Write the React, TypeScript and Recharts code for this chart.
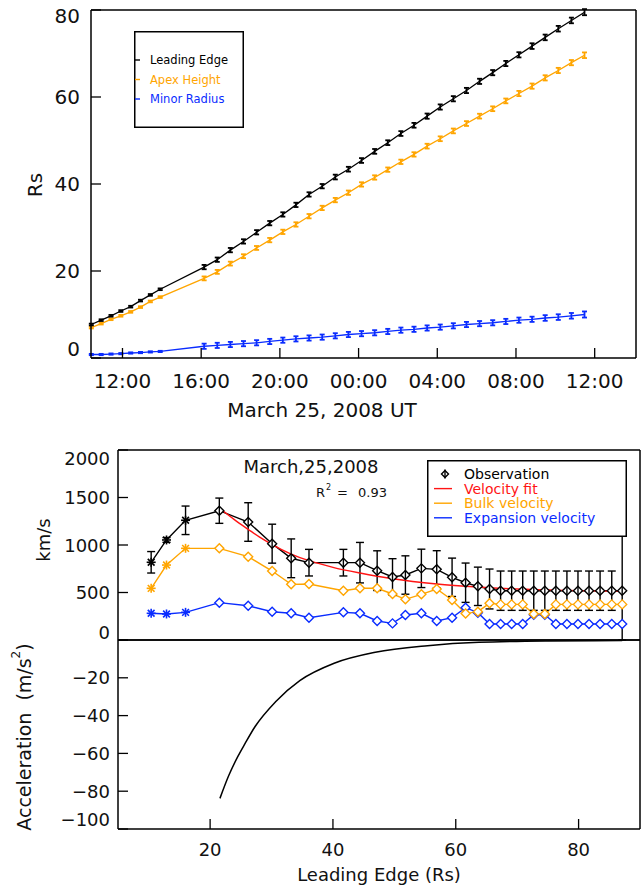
import React from 'react'
import { LineChart, Line, XAxis, YAxis, ErrorBar, Legend } from 'recharts'

const FONT = 'DejaVu Sans, sans-serif'
const ORANGE = '#ffa500'
const BLUE = '#0a2cff'
const RED = '#ff1414'

// ---- top panel: height vs time (UT) ----
const TIMES = [
  '2008-03-25T10:25', '2008-03-25T10:55', '2008-03-25T11:25', '2008-03-25T11:55',
  '2008-03-25T12:25', '2008-03-25T12:55', '2008-03-25T13:25', '2008-03-25T13:55',
  '2008-03-25T16:09', '2008-03-25T16:49', '2008-03-25T17:29', '2008-03-25T18:09',
  '2008-03-25T18:49', '2008-03-25T19:29', '2008-03-25T20:09', '2008-03-25T20:49',
  '2008-03-25T21:29', '2008-03-25T22:09', '2008-03-25T22:49', '2008-03-25T23:29',
  '2008-03-26T00:09', '2008-03-26T00:49', '2008-03-26T01:29', '2008-03-26T02:09',
  '2008-03-26T02:49', '2008-03-26T03:29', '2008-03-26T04:09', '2008-03-26T04:49',
  '2008-03-26T05:29', '2008-03-26T06:09', '2008-03-26T06:49', '2008-03-26T07:29',
  '2008-03-26T08:09', '2008-03-26T08:49', '2008-03-26T09:29', '2008-03-26T10:09',
  '2008-03-26T10:49', '2008-03-26T11:29',
]
const LEADING_EDGE = [
  7.7, 8.7, 9.7, 10.8, 11.8, 13.2, 14.5, 15.8,
  20.9, 22.6, 24.8, 26.8, 28.9, 31.0, 33.0, 35.2, 37.6, 39.5, 41.6, 43.4, 45.4, 47.5, 49.5,
  51.6, 53.5, 55.6, 57.7, 59.6, 61.5, 63.6, 65.6, 67.7, 69.7, 71.7, 73.7, 75.7, 77.6, 79.5,
]
const LEADING_EDGE_ERR = [
  0.2, 0.2, 0.2, 0.2, 0.2, 0.2, 0.2, 0.2,
  0.5, 0.5, 0.5, 0.5, 0.5, 0.5, 0.5, 0.5, 0.5, 0.5, 0.55, 0.55, 0.55, 0.55, 0.55,
  0.55, 0.55, 0.6, 0.6, 0.6, 0.6, 0.6, 0.6, 0.6, 0.6, 0.65, 0.65, 0.65, 0.65, 0.7,
]
const APEX_HEIGHT = [
  7.0, 7.9, 8.9, 9.7, 10.6, 11.7, 13.0, 14.0,
  18.3, 19.8, 21.7, 23.4, 25.3, 27.1, 29.0, 30.7, 32.6, 34.5, 36.3, 38.0, 39.9, 41.5, 43.3,
  45.1, 46.8, 48.7, 50.4, 52.2, 53.9, 55.6, 57.3, 59.1, 60.8, 62.5, 64.4, 66.1, 67.9, 69.6,
]
const APEX_ERR = [
  0.2, 0.2, 0.2, 0.2, 0.2, 0.2, 0.2, 0.2,
  0.45, 0.45, 0.45, 0.45, 0.45, 0.5, 0.5, 0.5, 0.5, 0.5, 0.5, 0.5, 0.5, 0.5, 0.5,
  0.5, 0.5, 0.55, 0.55, 0.55, 0.55, 0.55, 0.55, 0.55, 0.6, 0.6, 0.6, 0.6, 0.6, 0.65,
]
const MINOR_RADIUS = [
  0.8, 0.8, 0.9, 1.0, 1.15, 1.25, 1.4, 1.5,
  2.7, 2.9, 3.1, 3.3, 3.5, 3.8, 4.1, 4.4, 4.6, 4.8, 5.1, 5.4, 5.6, 5.8, 6.1,
  6.4, 6.6, 6.9, 7.1, 7.4, 7.7, 7.9, 8.1, 8.4, 8.7, 8.9, 9.2, 9.4, 9.7, 10.0,
]
const MINOR_ERR = [
  0.15, 0.15, 0.15, 0.15, 0.15, 0.15, 0.15, 0.15,
  0.6, 0.6, 0.6, 0.6, 0.6, 0.6, 0.6, 0.6, 0.6, 0.6, 0.6, 0.6, 0.6, 0.6, 0.6,
  0.6, 0.6, 0.6, 0.6, 0.6, 0.6, 0.6, 0.6, 0.6, 0.6, 0.6, 0.65, 0.65, 0.65, 0.7,
]
const TIME_MAJOR = [12, 16, 20, 24, 28, 32, 36]
const HEIGHT_MAJOR = [0, 20, 40, 60, 80]
const TOP_LEGEND = ['Leading Edge', 'Apex Height', 'Minor Radius']
const TOP_COLORS = ['#000', ORANGE, BLUE]

// ---- middle panel: velocity vs leading edge (Rs) ----
const VEL_DIST = [
  10.4, 12.9, 16.0, 21.5, 26.2, 30.1, 33.2, 36.1, 41.7, 44.4, 47.2, 49.7, 51.8, 54.4, 56.9, 59.4,
  61.6, 63.6, 65.5, 67.3, 69.1, 70.9, 72.7, 74.5, 76.3, 78.1, 79.9, 81.7, 83.5, 85.4, 87.1,
]
const OBS_VEL = [
  818, 1053, 1260, 1361, 1242, 1014, 860, 814, 814, 814, 730, 663, 684, 754, 744, 660,
  603, 565, 537, 519, 519, 519, 519, 519, 519, 519, 519, 519, 519, 519, 519,
]
const OBS_ERR_LOW = [
  113, 25, 150, 133, 203, 205, 204, 140, 140, 213, 209, 193, 202, 202, 196, 202,
  207, 202, 210, 207, 207, 207, 207, 207, 207, 207, 207, 207, 207, 207, 519,
]
const OBS_ERR_HIGH = [
  113, 25, 150, 133, 203, 205, 204, 140, 140, 213, 209, 193, 202, 202, 196, 202,
  207, 202, 210, 207, 207, 207, 207, 207, 207, 207, 207, 207, 207, 207, 744,
]
const BULK_VEL = [
  544, 789, 965, 965, 877, 726, 586, 589, 519, 544, 544, 484, 428, 481, 537, 421,
  278, 298, 386, 375, 375, 375, 274, 274, 375, 375, 375, 375, 375, 375, 375,
]
const EXP_VEL = [
  281, 274, 291, 393, 361, 298, 281, 235, 291, 281, 200, 175, 263, 281, 200, 235,
  340, 288, 168, 168, 168, 168, 266, 266, 168, 168, 168, 168, 168, 168, 168,
]
const FIT_DIST = [21.5, 24.0, 26.2, 28.0, 30.1, 33.2, 36.1, 40.0, 44.4, 49.7, 56.9, 63.6, 70.0, 78.0, 87.1]
const FIT_VEL = [1390, 1265, 1165, 1085, 1005, 905, 835, 765, 705, 645, 590, 558, 537, 522, 512]
const STAR_POINTS = 3 // first points drawn as asterisks
const VEL_MAJOR = [0, 500, 1000, 1500, 2000]
const VEL_LEGEND = ['Observation', 'Velocity fit', 'Bulk velocity', 'Expansion velocity']
const VEL_COLORS = ['#000', RED, ORANGE, BLUE]

// ---- bottom panel: acceleration ----
const ACC_DIST = [21.6, 23.0, 24.5, 25.7, 27.3, 30.7, 34.6, 40.2, 46.9, 55.4, 63.8, 75.0, 87.1]
const ACC = [-83.8, -72.0, -61.7, -54.7, -45.9, -32.5, -21.5, -12.3, -6.5, -3.0, -1.2, -0.5, -0.3]
const ACC_MAJOR = [-100, -80, -60, -40, -20, 0]
const DIST_MAJOR = [20, 40, 60, 80]

const range = (a: number, b: number, s: number) =>
  Array.from({ length: Math.round((b - a) / s) + 1 }, (_, i) => a + i * s)

const hoursOf = (s: string) => (Date.parse(s + ':00Z') - Date.UTC(2008, 2, 25)) / 3600000

const heightData = TIMES.map((s, i) => ({
  t: hoursOf(s),
  le: LEADING_EDGE[i],
  leErr: LEADING_EDGE_ERR[i],
  apex: APEX_HEIGHT[i],
  apexErr: APEX_ERR[i],
  minor: MINOR_RADIUS[i],
  minorErr: MINOR_ERR[i],
}))
const velData = VEL_DIST.map((r, i) => ({
  r,
  obs: OBS_VEL[i],
  obsErr: [OBS_ERR_LOW[i], OBS_ERR_HIGH[i]],
  bulk: BULK_VEL[i],
  exp: EXP_VEL[i],
}))
const fitData = FIT_DIST.map((r, i) => ({ r, fit: FIT_VEL[i] }))
const accData = ACC_DIST.map((r, i) => ({ r, acc: ACC[i] }))

const MAJOR_LEN = 10
const MINOR_LEN = 5

interface LabelOpts {
  fmt: (v: number) => string
  size: number
  gap: number
  shift?: Record<string, number>
  skip?: number[]
}

// labels for mirrored (inward-ticked) axes: Recharts hands us the inner tick end,
// so step back over the tick to the box edge, then out by `gap`
function makeLabel(side: 'bottom' | 'left', o: LabelOpts) {
  return (props: any) => {
    const { x, y, payload } = props
    const v = payload.value
    if (o.skip?.includes(v)) return <g />
    const dy = o.shift?.[String(v)] ?? 0
    const common = { fontFamily: FONT, fontSize: o.size, fill: '#111', dominantBaseline: 'central' as const }
    return side === 'left' ? (
      <text x={x - MAJOR_LEN - o.gap} y={y + dy} textAnchor="end" {...common}>{o.fmt(v)}</text>
    ) : (
      <text x={x} y={y + MAJOR_LEN + o.gap} textAnchor="middle" {...common}>{o.fmt(v)}</text>
    )
  }
}

const fmtTime = (v: number) => String(v % 24).padStart(2, '0') + ':00'
const fmtNum = (v: number) => (v < 0 ? '\u2212' + Math.abs(v) : String(v))

const AXIS_LINE = { stroke: '#000', strokeWidth: 1.5 }
const TICK_LINE = { stroke: '#000', strokeWidth: 1.3 }

interface FrameCfg {
  data: any[]
  xKey: string
  yKey: string
  xDomain: [number, number]
  xMajor: number[]
  xMinor: number[]
  yDomain: [number, number]
  yMajor: number[]
  yMinor: number[]
  xLabel?: LabelOpts
  yLabel?: LabelOpts
}

const TOP_FRAME: FrameCfg = {
  data: heightData,
  xKey: 't',
  yKey: 'le',
  xDomain: [10.4, 38.1],
  xMajor: TIME_MAJOR,
  xMinor: range(11, 38, 1),
  yDomain: [0, 80],
  yMajor: HEIGHT_MAJOR,
  yMinor: range(0, 80, 5),
  xLabel: { fmt: fmtTime, size: 20, gap: 23 },
  yLabel: { fmt: fmtNum, size: 20, gap: 11, shift: { '80': 6, '0': -9 } },
}
const VEL_FRAME: FrameCfg = {
  data: velData,
  xKey: 'r',
  yKey: 'obs',
  xDomain: [5, 90],
  xMajor: DIST_MAJOR,
  xMinor: range(10, 85, 5),
  yDomain: [0, 2000],
  yMajor: VEL_MAJOR,
  yMinor: range(0, 2000, 100),
  yLabel: { fmt: fmtNum, size: 18, gap: 8, shift: { '2000': 8, '0': -8 } },
}
const ACC_FRAME: FrameCfg = {
  data: accData,
  xKey: 'r',
  yKey: 'acc',
  xDomain: [5, 90],
  xMajor: DIST_MAJOR,
  xMinor: range(10, 85, 5),
  yDomain: [-100, 0],
  yMajor: ACC_MAJOR,
  yMinor: range(-100, 0, 5),
  xLabel: { fmt: fmtNum, size: 18, gap: 20 },
  yLabel: { fmt: fmtNum, size: 18, gap: 8, shift: { '-100': -10 }, skip: [0] },
}

// IDL-style box: mirrored axes on all four sides give inward ticks,
// one axis per side for the long (major) ticks and one for the short ones
function frame(c: FrameCfg) {
  const base = { type: 'number' as const, allowDataOverflow: true, interval: 0 as const, stroke: '#000', mirror: true, tickMargin: 0, tickLine: TICK_LINE }
  const xs = { dataKey: c.xKey, domain: c.xDomain, height: 1, ...base }
  const ys = { domain: c.yDomain, width: 1, ...base }
  const major = { tickSize: MAJOR_LEN }
  const minor = { tickSize: MINOR_LEN, tick: false, axisLine: false }
  const hidden = { data: c.data, dataKey: c.yKey, stroke: '#000', strokeOpacity: 0, dot: false, isAnimationActive: false }
  return [
    <XAxis key="xb" xAxisId="xb" ticks={c.xMajor} axisLine={AXIS_LINE} tick={c.xLabel ? makeLabel('bottom', c.xLabel) : false} {...xs} {...major} />,
    <XAxis key="xbm" xAxisId="xbm" ticks={c.xMinor} {...xs} {...minor} />,
    <XAxis key="xt" xAxisId="xt" orientation="top" ticks={c.xMajor} axisLine={AXIS_LINE} tick={false} {...xs} {...major} />,
    <XAxis key="xtm" xAxisId="xtm" orientation="top" ticks={c.xMinor} {...xs} {...minor} />,
    <YAxis key="yl" yAxisId="yl" ticks={c.yMajor} axisLine={AXIS_LINE} tick={c.yLabel ? makeLabel('left', c.yLabel) : false} {...ys} {...major} />,
    <YAxis key="ylm" yAxisId="ylm" ticks={c.yMinor} {...ys} {...minor} />,
    <YAxis key="yr" yAxisId="yr" orientation="right" ticks={c.yMajor} axisLine={AXIS_LINE} tick={false} {...ys} {...major} />,
    <YAxis key="yrm" yAxisId="yrm" orientation="right" ticks={c.yMinor} {...ys} {...minor} />,
    <Line key="h1" xAxisId="xbm" yAxisId="ylm" {...hidden} />,
    <Line key="h2" xAxisId="xt" yAxisId="yr" {...hidden} />,
    <Line key="h3" xAxisId="xtm" yAxisId="yrm" {...hidden} />,
  ]
}

const ON_MAIN = { xAxisId: 'xb', yAxisId: 'yl' }

function Marker(props: any) {
  const { cx, cy, index, color, phi } = props
  if (cx == null || cy == null) return <g key={index} />
  const s = 4.5
  if (index < STAR_POINTS) {
    return (
      <g key={index} stroke={color} strokeWidth={1.6}>
        <line x1={cx - s} x2={cx + s} y1={cy} y2={cy} />
        <line x1={cx} x2={cx} y1={cy - s} y2={cy + s} />
        <line x1={cx - s * 0.75} x2={cx + s * 0.75} y1={cy - s * 0.75} y2={cy + s * 0.75} />
        <line x1={cx - s * 0.75} x2={cx + s * 0.75} y1={cy + s * 0.75} y2={cy - s * 0.75} />
      </g>
    )
  }
  return (
    <g key={index}>
      <polygon
        points={`${cx},${cy - s} ${cx + s},${cy} ${cx},${cy + s} ${cx - s},${cy}`}
        fill="#fff"
        stroke={color}
        strokeWidth={1.4}
      />
      {phi && <line x1={cx} x2={cx} y1={cy - s} y2={cy + s} stroke={color} strokeWidth={1.4} />}
    </g>
  )
}

function TopLegend() {
  return (
    <svg width={110} height={97} style={{ display: 'block' }}>
      <rect x={0.75} y={0.75} width={108.5} height={95.5} fill="#fff" stroke="#000" strokeWidth={1.5} />
      {TOP_LEGEND.map((name, i) => (
        <g key={name}>
          <line x1={1} x2={6} y1={29 + i * 19.5} y2={29 + i * 19.5} stroke={TOP_COLORS[i]} strokeWidth={1.4} />
          <text x={16} y={29 + i * 19.5} dominantBaseline="central" fontSize={11.5} fill={TOP_COLORS[i]} fontFamily={FONT}>
            {name}
          </text>
        </g>
      ))}
    </svg>
  )
}

function VelLegend() {
  return (
    <svg width={200} height={77} style={{ display: 'block' }}>
      <rect x={0.75} y={0.75} width={198.5} height={75.5} fill="#fff" stroke="#000" strokeWidth={1.5} />
      {VEL_LEGEND.map((name, i) => {
        const y = 14 + i * 14.6
        return (
          <g key={name}>
            {i === 0 ? (
              <g stroke="#000" strokeWidth={1.4}>
                <polygon points={`18,${y - 3.5} 21.5,${y} 18,${y + 3.5} 14.5,${y}`} fill="#fff" />
                <line x1={18} x2={18} y1={y - 4.5} y2={y + 4.5} />
              </g>
            ) : (
              <line x1={7} x2={25} y1={y} y2={y} stroke={VEL_COLORS[i]} strokeWidth={1.4} />
            )}
            <text x={37} y={y} dominantBaseline="central" fontSize={14} fill={VEL_COLORS[i]} fontFamily={FONT}>
              {name}
            </text>
          </g>
        )
      })}
    </svg>
  )
}

export default function App() {
  return (
    <div style={{ position: 'absolute', left: 0, top: 0, width: 642, height: 886, background: '#fff' }}>
      {/* top: height-time */}
      <div style={{ position: 'absolute', left: 0, top: 0 }}>
        <LineChart width={642} height={430} data={heightData} margin={{ top: 10, right: 6, bottom: 72, left: 91 }}>
          {frame(TOP_FRAME)}
          <Legend
            layout="horizontal"
            verticalAlign="middle"
            align="center"
            wrapperStyle={{ left: 134, top: 31, width: 110, height: 97, margin: 0, padding: 0 }}
            content={() => <TopLegend />}
          />
          <Line {...ON_MAIN} dataKey="minor" stroke={BLUE} strokeWidth={1.3} dot={false} isAnimationActive={false}>
            <ErrorBar dataKey="minorErr" width={2.5} stroke={BLUE} strokeWidth={1.8} direction="y" />
          </Line>
          <Line {...ON_MAIN} dataKey="apex" stroke={ORANGE} strokeWidth={1.3} dot={false} isAnimationActive={false}>
            <ErrorBar dataKey="apexErr" width={2.5} stroke={ORANGE} strokeWidth={1.8} direction="y" />
          </Line>
          <Line {...ON_MAIN} dataKey="le" stroke="#000" strokeWidth={1.3} dot={false} isAnimationActive={false}>
            <ErrorBar dataKey="leErr" width={2.5} stroke="#000" strokeWidth={1.8} direction="y" />
          </Line>
        </LineChart>
      </div>

      {/* middle: velocity */}
      <div style={{ position: 'absolute', left: 0, top: 440 }}>
        <LineChart width={642} height={212} margin={{ top: 10, right: 2, bottom: 12, left: 118 }}>
          {frame(VEL_FRAME)}
          <Legend
            layout="horizontal"
            verticalAlign="middle"
            align="center"
            wrapperStyle={{ left: 427, top: 20, width: 200, height: 77, margin: 0, padding: 0 }}
            content={() => <VelLegend />}
          />
          <Line {...ON_MAIN} data={velData} dataKey="exp" stroke={BLUE} strokeWidth={1.4} isAnimationActive={false}
            dot={(p: any) => <Marker key={p.index} {...p} color={BLUE} />} />
          <Line {...ON_MAIN} data={velData} dataKey="bulk" stroke={ORANGE} strokeWidth={1.4} isAnimationActive={false}
            dot={(p: any) => <Marker key={p.index} {...p} color={ORANGE} />} />
          <Line {...ON_MAIN} data={velData} dataKey="obs" stroke="#000" strokeWidth={1.4} isAnimationActive={false}
            dot={(p: any) => <Marker key={p.index} {...p} color="#000" phi />}>
            <ErrorBar dataKey="obsErr" width={4} stroke="#000" strokeWidth={1.4} direction="y" />
          </Line>
          <Line {...ON_MAIN} data={fitData} dataKey="fit" type="monotone" stroke={RED} strokeWidth={1.4} dot={false} isAnimationActive={false} />
        </LineChart>
      </div>

      {/* bottom: acceleration */}
      <div style={{ position: 'absolute', left: 0, top: 630 }}>
        <LineChart width={642} height={256} data={accData} margin={{ top: 10, right: 2, bottom: 57, left: 118 }}>
          {frame(ACC_FRAME)}
          <Line {...ON_MAIN} dataKey="acc" type="monotone" stroke="#000" strokeWidth={1.5} dot={false} isAnimationActive={false} />
        </LineChart>
      </div>

      {/* axis titles and annotations */}
      <svg width={642} height={886} style={{ position: 'absolute', left: 0, top: 0, pointerEvents: 'none' }} fontFamily={FONT} fill="#111">
        <text x={35} y={185} transform="rotate(-90 35 185)" textAnchor="middle" dominantBaseline="central" fontSize={20}>Rs</text>
        <text x={322} y={410} textAnchor="middle" dominantBaseline="central" fontSize={20}>March 25, 2008 UT</text>
        <text x={311} y={466} textAnchor="middle" dominantBaseline="central" fontSize={18}>March,25,2008</text>
        <text x={316} y={492} dominantBaseline="central" fontSize={13}>R</text>
        <text x={326} y={487} dominantBaseline="central" fontSize={8}>2</text>
        <text x={337} y={492} dominantBaseline="central" fontSize={13}>=</text>
        <text x={358} y={492} dominantBaseline="central" fontSize={13}>0.93</text>
        <text x={43} y={540} transform="rotate(-90 43 540)" textAnchor="middle" dominantBaseline="central" fontSize={18}>km/s</text>
        <text x={24} y={737} transform="rotate(-90 24 737)" textAnchor="middle" dominantBaseline="central" fontSize={19}>
          Acceleration<tspan dx={12}>(m/s</tspan><tspan fontSize={12} dy={-8}>2</tspan><tspan dy={8}>)</tspan>
        </text>
        <text x={379} y={874} textAnchor="middle" dominantBaseline="central" fontSize={18}>Leading Edge (Rs)</text>
      </svg>
    </div>
  )
}
